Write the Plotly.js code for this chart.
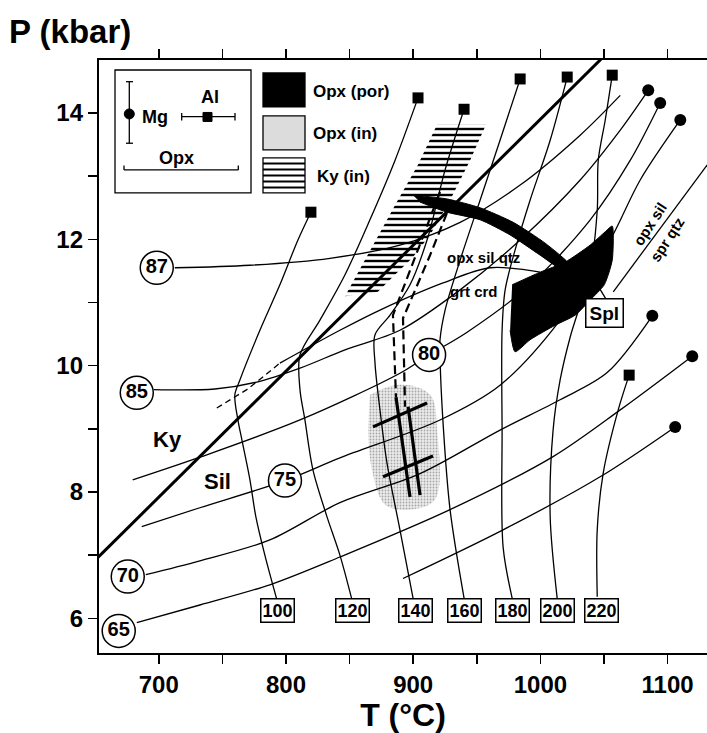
<!DOCTYPE html>
<html><head><meta charset="utf-8">
<script src="https://cdn.plot.ly/plotly-3.0.1.min.js"></script>
<style>html,body{margin:0;padding:0;background:#fff}#chart{width:707px;height:733px}</style>
</head><body><div id="chart"></div>
<script>
// ---------- DATA (T in °C, P in kbar) ----------
const kySilT = [650, 1050];
const kySilP = [6.92, 14.90];

// Al isopleths in Opx (top end = square marker)
const al100T = [819.6,809.4,795.2,779.5,763.7,759.8,762.2,765.3,771.6,776.3,783.4,792.9];
const al100P = [12.43,11.99,11.28,10.56,9.77,9.54,9.14,8.83,8.20,7.61,7.00,6.29];
const al120T = [903.8,885.7,866.0,846.4,826.7,811.0,811.0,814.9,821.2,832.2,842.4,851.9];
const al120P = [14.24,13.25,12.31,11.44,10.72,10.17,9.62,9.14,8.35,7.61,7.00,6.29];
const al140T = [940.0,925.1,910.9,897.5,881.8,870.0,870.0,873.9,879.4,889.6,899.9];
const al140P = [14.06,13.10,11.99,11.28,10.80,10.49,10.04,9.30,8.46,7.40,6.32];
const al160T = [984.1,968.3,952.6,936.9,925.1,921.1,921.1,923.5,929.0,940.0];
const al160P = [14.54,13.57,12.62,11.67,10.88,10.41,10.14,9.09,7.72,6.32];
const al180T = [1021.1,1007.7,991.9,980.1,972.3,969.9,969.9,970.7,977.8];
const al180P = [14.57,13.57,12.62,11.83,11.20,10.56,8.98,7.13,6.32];
const al200T = [1056.5,1051.0,1045.5,1044.7,1039.2,1023.4,1015.5,1010.0,1007.7,1013.2];
const al200P = [14.60,13.89,13.25,12.46,11.51,10.45,9.77,8.98,7.61,6.32];
const al220T = [1069.8,1061.2,1049.4,1044.7,1044.7];
const al220P = [9.85,9.30,8.30,7.40,6.34];
const alLabels = ['100','120','140','160','180','200','220'];
const alLabelT = [793.1,852.1,902.2,940.0,978.0,1013.4,1048.4];
const alLabelP = 6.13;

// Mg isopleths in Opx (top end = dot marker where present)
const mg87T = [712.6,771.6,834.6,889.6,936.9,984.1,1031.3,1062.8];
const mg87P = [11.55,11.59,11.70,11.91,12.27,12.86,13.65,14.28];
const mg85T = [696.1,744.1,777.1,811.0,846.4,889.6,936.9,984.1,1031.3,1062.8,1084.8];
const mg85P = [9.62,9.63,9.74,9.96,10.25,10.56,11.20,11.99,12.94,13.73,14.36];
const mg80T = [679.5,732.3,811.0,889.6,912.5,942.4,991.9,1039.2,1070.6,1094.2];
const mg80P = [8.19,8.55,9.14,9.88,10.17,10.53,11.28,12.31,13.25,14.16];
const mg75T = [686.6,732.3,799.2,842.4,921.1,968.3,1015.5,1054.9,1078.5,1110.0];
const mg75P = [7.45,7.75,8.18,8.54,9.14,9.69,10.72,11.99,12.94,13.89];
const mg70T = [689.8,732.3,787.3,842.4,905.4,968.3,1015.5,1052.5,1088.0];
const mg70P = [6.69,6.91,7.24,7.83,8.29,8.98,9.46,9.89,10.79];
const mg65T = [682.7,732.3,787.3,842.4,929.0,1010.0,1062.8,1119.4];
const mg65P = [5.93,6.21,6.53,6.97,7.72,8.56,9.30,10.15];
const mgLowT = [892.0,970.7,1047.0,1106.0];
const mgLowP = [6.63,7.40,8.24,9.03];
const mgLabels = ['87','85','80','75','70','65'];
const mgLabelT = [698.4,682.7,912.5,799.2,675.6,668.5];
const mgLabelP = [11.55,9.57,10.17,8.18,6.66,5.80];

// reactions
const grtCrdDashT = [745.6,769.2,781.1,795.2];
const grtCrdDashP = [9.33,9.62,9.81,10.04];
const grtCrdT = [795.2,842.4,873.9,923.5,960.5,999.8];
const grtCrdP = [10.04,10.56,10.88,11.31,11.55,11.48];
const sprQtzT = [1131.2,1057.3];
const sprQtzP = [13.18,11.17];
const splLineT = [1041.5,1064.3];
const splLineP = [11.39,10.63];

// fields
const opxPorT = [977.8,999.8,1019.5,1039.2,1051.0,1056.5,1056.5,1050.2,1039.2,1027.4,1011.6,991.9,980.1,976.2];
const opxPorP = [11.28,11.48,11.64,11.91,12.12,12.21,11.67,11.28,11.04,10.80,10.64,10.41,10.22,10.56];
const arcT = [899.9,926.6,952.6,978.6,1003.7,1023.4,1023.4,999.8,976.2,952.6,926.6,905.4];
const arcP = [12.70,12.64,12.50,12.27,11.94,11.59,11.44,11.75,12.07,12.31,12.43,12.59];
const kyInT = [918.8,957.3,944.7,929.0,913.3,899.1,885.7,872.3,846.4,866.0,885.7,903.8];
const kyInP = [13.82,13.82,13.25,12.62,12.07,11.70,11.44,11.17,11.10,11.83,12.54,13.18];
const opxInT = [866.0,889.6,913.3,918.8,917.2,897.5,877.8,867.6,864.5];
const opxInP = [9.54,9.70,9.54,8.98,7.88,7.72,7.80,8.35,8.98];

// inclusion constraints
const inc1T = [921.1,903.8,884.1,886.5]; const inc1P = [12.75,11.83,10.80,9.50];
const inc2T = [930.6,913.3,892.0,893.6]; const inc2P = [12.62,11.75,10.75,9.35];
const incV1T = [886.5,897.5]; const incV1P = [9.50,7.92];
const incV2T = [896.0,905.4]; const incV2P = [9.35,7.95];
const incH1T = [868.4,910.9]; const incH1P = [9.03,9.41];
const incH2T = [876.3,915.6]; const incH2P = [8.24,8.57];

// ---------- BUILD ----------
const FONT = 'Liberation Sans, Arial, Helvetica, sans-serif';
const traces = [];
function line(x, y, opt) {
  traces.push(Object.assign({type:'scatter', mode:'lines', x:x, y:y, hoverinfo:'skip', showlegend:false,
    line:{color:'black', width:1.3, shape:'spline', smoothing:0.9}}, opt||{}));
}
// fields first
traces.push({type:'scatter', mode:'lines', x:opxInT, y:opxInP, fill:'toself', showlegend:false, hoverinfo:'skip',
  line:{width:0, shape:'spline'}, fillcolor:'#dedede',
  fillpattern:{shape:'.', size:3, solidity:0.3, fgcolor:'#a8a8a8', bgcolor:'#ececec'}});
traces.push({type:'scatter', mode:'lines', x:kyInT, y:kyInP, fill:'toself', showlegend:false, hoverinfo:'skip',
  line:{width:0}, fillcolor:'rgba(0,0,0,0)',
  fillpattern:{shape:'-', size:6, solidity:0.4, fgcolor:'black', bgcolor:'rgba(255,255,255,0)'}});

const alT = [al100T,al120T,al140T,al160T,al180T,al200T,al220T];
const alP = [al100P,al120P,al140P,al160P,al180P,al200P,al220P];
alT.forEach((t,i)=>line(t, alP[i]));
const mgT = [mg87T,mg85T,mg80T,mg75T,mg70T,mg65T,mgLowT];
const mgP = [mg87P,mg85P,mg80P,mg75P,mg70P,mg65P,mgLowP];
mgT.forEach((t,i)=>line(t, mgP[i]));

line(kySilT, kySilP, {line:{color:'black', width:3}});
line(grtCrdDashT, grtCrdDashP, {line:{color:'black', width:1.3, dash:'6px,4px'}});
line(grtCrdT, grtCrdP);
line(sprQtzT, sprQtzP, {line:{color:'black', width:1.3}});
line(splLineT, splLineP, {line:{color:'black', width:1.3}});
line(inc1T, inc1P, {line:{color:'black', width:2.2, dash:'9px,5px'}});
line(inc2T, inc2P, {line:{color:'black', width:2.2, dash:'9px,5px'}});
[[incV1T,incV1P],[incV2T,incV2P],[incH1T,incH1P],[incH2T,incH2P]].forEach(s=>
  line(s[0], s[1], {line:{color:'black', width:3.2}}));

traces.push({type:'scatter', mode:'lines', x:opxPorT, y:opxPorP, fill:'toself', fillcolor:'black',
  line:{color:'black', width:1, shape:'spline', smoothing:0.6}, showlegend:false, hoverinfo:'skip'});
traces.push({type:'scatter', mode:'lines', x:arcT, y:arcP, fill:'toself', fillcolor:'black',
  line:{color:'black', width:1, shape:'spline', smoothing:0.6}, showlegend:false, hoverinfo:'skip'});

// end markers
traces.push({type:'scatter', mode:'markers', showlegend:false, hoverinfo:'skip',
  x: alT.map(a=>a[0]), y: alP.map(a=>a[0]),
  marker:{symbol:'square', size:11, color:'black'}});
const mgDot = mgT.map((t,i)=>[t[t.length-1], mgP[i][mgP[i].length-1]]).slice(1);
traces.push({type:'scatter', mode:'markers', showlegend:false, hoverinfo:'skip',
  x: mgDot.map(d=>d[0]), y: mgDot.map(d=>d[1]),
  marker:{symbol:'circle', size:12, color:'black'}});
// circled Mg labels
traces.push({type:'scatter', mode:'markers+text', showlegend:false, hoverinfo:'skip',
  x: mgLabelT, y: mgLabelP, text: mgLabels, textposition:'middle center',
  textfont:{family:FONT, size:20, weight:'bold', color:'black'},
  marker:{symbol:'circle', size:33, color:'white', line:{color:'black', width:1.5}}});

const annotations = [];
alLabels.forEach((s,i)=>annotations.push({x:alLabelT[i], y:alLabelP, xref:'x', yref:'y', text:s, showarrow:false,
  font:{family:FONT, size:18, weight:'bold', color:'black'}, bgcolor:'white', bordercolor:'black', borderwidth:1.5, borderpad:1}));
annotations.push({x:1050.2, y:10.83, xref:'x', yref:'y', text:'Spl', showarrow:false,
  font:{family:FONT, size:19, weight:'bold', color:'black'}, bgcolor:'white', bordercolor:'black', borderwidth:1.5, borderpad:3});
function txt(x,y,s,size,opt){annotations.push(Object.assign({x:x,y:y,xref:'x',yref:'y',text:s,showarrow:false,
  font:{family:FONT,size:size,weight:'bold',color:'black'}},opt||{}));}
txt(955.0,11.72,'opx sil qtz',15);
txt(947.9,11.18,'grt crd',15);
txt(1086.4,12.25,'opx sil',15,{textangle:-57});
txt(1099.7,11.99,'spr qtz',15,{textangle:-57});
txt(707.1,8.83,'Ky',22);
txt(746.4,8.16,'Sil',22);

// paper-space helpers (legend panel)
function px(x){return (x-99)/608;} function py(y){return (653.5-y)/593.5;}
function ptxt(x,y,s,size,anchor){annotations.push({x:px(x),y:py(y),xref:'paper',yref:'paper',text:s,showarrow:false,
  xanchor:anchor||'center', yanchor:'middle', font:{family:FONT,size:size,weight:'bold',color:'black'}});}
ptxt(140,116.7,'Mg',18,'left');
ptxt(210,97,'Al',18);
ptxt(176,158,'Opx',18);
ptxt(311,91.7,'Opx (por)',17,'left');
ptxt(311,133.3,'Opx (in)',17,'left');
ptxt(315,176.7,'Ky (in)',17,'left');
annotations.push({x:px(7), y:py(31), xref:'paper', yref:'paper', text:'P (kbar)', showarrow:false, xanchor:'left', yanchor:'middle',
  font:{family:FONT, size:33, weight:'bold', color:'black'}});

const shapes = [];
function pline(x0,y0,x1,y1,w){shapes.push({type:'line',xref:'paper',yref:'paper',x0:px(x0),y0:py(y0),x1:px(x1),y1:py(y1),line:{color:'black',width:w||1.3}});}
function prect(x0,y0,x1,y1,fill,w){shapes.push({type:'rect',xref:'paper',yref:'paper',x0:px(x0),y0:py(y0),x1:px(x1),y1:py(y1),fillcolor:fill,line:{color:'black',width:w||1.3}});}
prect(115,70,251,193,'rgba(0,0,0,0)',1.3);
pline(129.3,81.7,129.3,143.3); pline(126,81.7,133,81.7); pline(126,143.3,133,143.3);
shapes.push({type:'circle',xref:'paper',yref:'paper',x0:px(124.3),x1:px(134.3),y0:py(119),y1:py(109),fillcolor:'black',line:{color:'black',width:1}});
pline(181.7,116.7,235,116.7); pline(181.7,113,181.7,120.5); pline(235,113,235,120.5);
prect(203,112.5,212,121.5,'black',1);
pline(124,170,238.3,170); pline(124,170,124,165.5); pline(238.3,170,238.3,165.5);
prect(263,73,305,107,'black',1.3);
prect(263,116,305,150,'#dcdcdc',1.3);
prect(263,158,305,193,'white',1.3);
[163.5,169.5,175.5,181.5,187.5].forEach(y=>pline(263,y,305,y,2));

const tickFont = {family:FONT, size:24, weight:'bold', color:'black'};
const layout = {
  width:707, height:733, margin:{l:99, r:0, t:60, b:79.5},
  paper_bgcolor:'white', plot_bgcolor:'white', showlegend:false,
  font:{family:FONT, color:'black'},
  xaxis:{range:[653,1131], showgrid:false, zeroline:false, showline:true, linewidth:2.2, linecolor:'black',
    mirror:'ticks', ticks:'outside', ticklen:9, tickwidth:1.5, tickcolor:'black',
    tickmode:'array', tickvals:[700,750,800,850,900,950,1000,1050,1100], ticktext:['700','','800','','900','','1000','','1100'],
    tickfont:tickFont, title:{text:'T (°C)', font:{family:FONT, size:32, weight:'bold', color:'black'}, standoff:9}},
  yaxis:{range:[5.45,14.84], showgrid:false, zeroline:false, showline:true, linewidth:2.2, linecolor:'black',
    mirror:false, ticks:'outside', ticklen:9, tickwidth:1.5, tickcolor:'black',
    tickmode:'array', tickvals:[6,7,8,9,10,11,12,13,14], ticktext:['6','','8','','10','','12','','14'],
    tickfont:tickFont},
  annotations:annotations, shapes:shapes
};
Plotly.newPlot('chart', traces, layout, {staticPlot:true, displayModeBar:false});
</script></body></html>
